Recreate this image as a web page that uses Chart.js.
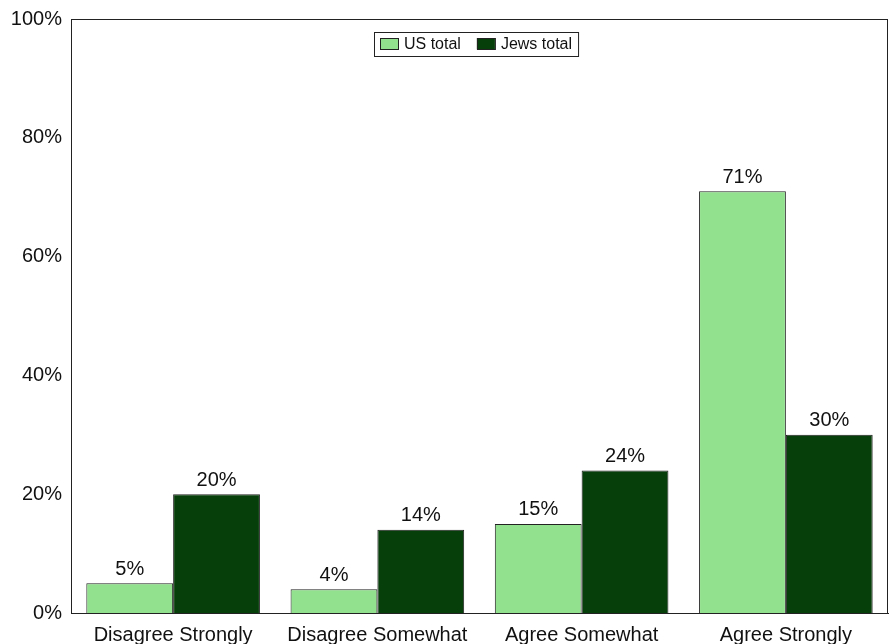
<!DOCTYPE html>
<html>
<head>
<meta charset="utf-8">
<script src="https://cdn.jsdelivr.net/npm/chart.js@4"></script>
<style>
  html, body { margin: 0; padding: 0; background: #fff; }
  #wrap { width: 889px; height: 644px; }
</style>
</head>
<body>
<div id="wrap"><canvas id="chart"></canvas></div>
<script>
// data
const categories = ["Disagree Strongly", "Disagree Somewhat", "Agree Somewhat", "Agree Strongly"];
const usTotal = [5, 4, 15, 71];
const jewsTotal = [20, 14, 24, 30];
const seriesNames = ["US total", "Jews total"];
const yTicks = [0, 20, 40, 60, 80, 100];

const FONT = "'Liberation Sans', Arial, Helvetica, sans-serif";

// frame around the plot area
const framePlugin = {
  id: "frame",
  afterDraw(chart) {
    const { ctx, chartArea: a } = chart;
    ctx.save();
    ctx.strokeStyle = "#222";
    ctx.lineWidth = 1;
    ctx.strokeRect(Math.round(a.left) + 0.5, Math.round(a.top) + 0.5,
      Math.round(a.right - a.left) - 1, Math.round(a.bottom - a.top));
    ctx.restore();
  }
};

// value labels on top of the bars
const valueLabels = {
  id: "valueLabels",
  afterDatasetsDraw(chart) {
    const { ctx } = chart;
    ctx.save();
    ctx.font = "20px " + FONT;
    ctx.fillStyle = "#111";
    ctx.textAlign = "center";
    ctx.textBaseline = "bottom";
    chart.data.datasets.forEach((ds, i) => {
      chart.getDatasetMeta(i).data.forEach((bar, j) => {
        ctx.fillText(ds.data[j] + "%", bar.x, bar.y - 4);
      });
    });
    ctx.restore();
  }
};

// legend box inside the plot, top centre
const boxLegend = {
  id: "boxLegend",
  afterDraw(chart) {
    const { ctx, chartArea: a } = chart;
    ctx.save();
    ctx.font = "16px " + FONT;
    const sw = 18, sh = 11, gap = 6, itemGap = 16, pad = 6;
    const items = chart.data.datasets.map(ds => ({
      label: ds.label, color: ds.backgroundColor, w: sw + gap + ctx.measureText(ds.label).width
    }));
    const total = items.reduce((s, it) => s + it.w, 0) + itemGap * (items.length - 1) + pad * 2;
    const h = 24;
    const x0 = Math.round((a.left + a.right) / 2 - total / 2 - 3);
    const y0 = Math.round(a.top + 13);
    ctx.fillStyle = "#fff";
    ctx.fillRect(x0, y0, total, h);
    ctx.strokeStyle = "#222";
    ctx.lineWidth = 1;
    ctx.strokeRect(x0 + 0.5, y0 + 0.5, total, h);
    let x = x0 + pad;
    items.forEach(it => {
      ctx.fillStyle = it.color;
      ctx.fillRect(x, y0 + 6, sw, sh);
      ctx.strokeStyle = "#222";
      ctx.strokeRect(x + 0.5, y0 + 6.5, sw, sh);
      ctx.fillStyle = "#111";
      ctx.textBaseline = "middle";
      ctx.fillText(it.label, x + sw + gap, y0 + h / 2 + 1);
      x += it.w + itemGap;
    });
    ctx.restore();
  }
};

new Chart(document.getElementById("chart"), {
  type: "bar",
  data: {
    labels: categories,
    datasets: [
      { label: seriesNames[0], data: usTotal, backgroundColor: "#92E18E", borderColor: "#222", borderWidth: 1 },
      { label: seriesNames[1], data: jewsTotal, backgroundColor: "#063F0A", borderColor: "#222", borderWidth: 1 }
    ]
  },
  options: {
    responsive: true,
    maintainAspectRatio: false,
    animation: false,
    layout: { padding: { top: 18, right: 1, left: 0, bottom: 0 } },
    datasets: { bar: { categoryPercentage: 0.85, barPercentage: 1.0 } },
    plugins: {
      legend: { display: false },
      tooltip: { enabled: false }
    },
    scales: {
      x: {
        grid: { display: false, drawTicks: false },
        border: { display: true, color: "#222" },
        ticks: { color: "#111", font: { family: FONT, size: 20 }, padding: 10, maxRotation: 0, autoSkip: false },
        afterFit(scale) { scale.height = 31; }
      },
      y: {
        min: 0,
        max: 100,
        grid: { display: false, drawTicks: false },
        border: { display: true, color: "#222" },
        afterBuildTicks(scale) { scale.ticks = yTicks.map(v => ({ value: v })); },
        ticks: {
          color: "#111",
          font: { family: FONT, size: 20, lineHeight: 1 },
          padding: 9,
          callback: v => v + "%"
        },
        afterFit(scale) { scale.width = 71; }
      }
    }
  },
  plugins: [framePlugin, valueLabels, boxLegend]
});
</script>
</body>
</html>
